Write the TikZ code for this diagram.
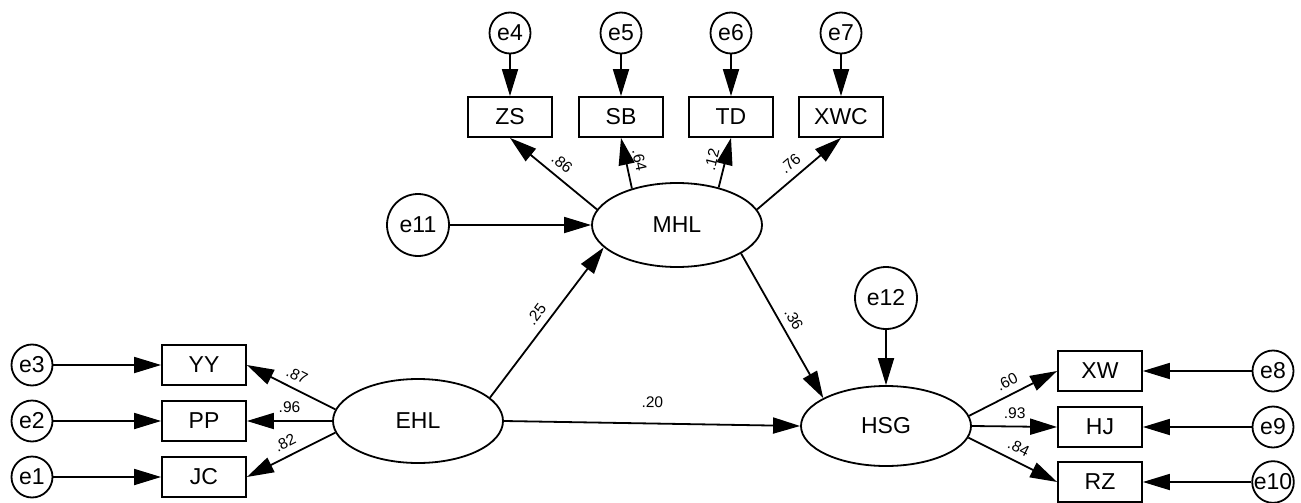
\documentclass[tikz,border=0pt]{standalone}
\usepackage{fontspec}
\setmainfont{Liberation Sans}
\usetikzlibrary{arrows.meta,shapes.geometric}
\begin{document}
\begin{tikzpicture}[x=1pt,y=-1pt,
  every node/.style={font=\fontsize{23}{27}\selectfont},
  obs/.style={draw, line width=1.8pt, rectangle, minimum width=84pt, minimum height=40pt, inner sep=0pt},
  lat/.style={draw, line width=1.8pt, ellipse, minimum width=170pt, minimum height=84pt, inner sep=0pt},
  err/.style={draw, line width=1.8pt, circle, minimum size=41pt, inner sep=0pt},
  bigerr/.style={err, minimum size=62pt},
  arr/.style={line width=1.8pt, -{Triangle[length=27pt,width=16pt]}},
  coef/.style={font=\fontsize{15.5}{18}\selectfont, sloped, above=6pt, inner sep=1pt, pos=0.5}
]
\fill[white] (0,0) rectangle (1301,503);
\useasboundingbox (0,0) rectangle (1301,503);

% indicators of MHL and their errors
\foreach \n/\e/\x in {ZS/e4/510, SB/e5/621, TD/e6/731, XWC/e7/841}{
  \node[err] (\e) at (\x,33) {\e};
  \node[obs] (\n) at (\x,117) {\n};
  \draw[arr] (\e) -- (\n);
}

% latent variables
\node[lat] (MHL) at (677,225) {MHL};
\node[lat] (EHL) at (418,421) {EHL};
\node[lat, minimum height=80pt] (HSG) at (886,426) {HSG};
\node[bigerr] (e11) at (418,225) {e11};
\node[bigerr] (e12) at (886,298) {e12};

% indicators of EHL
\foreach \n/\e/\y in {YY/e3/365, PP/e2/421, JC/e1/477}{
  \node[obs] (\n) at (204,\y) {\n};
  \node[err] (\e) at (32,\y) {\e};
  \draw[arr] (\e) -- (\n);
}

% indicators of HSG
\foreach \n/\e/\y in {XW/e8/371, HJ/e9/427, RZ/e10/482}{
  \node[obs] (\n) at (1100,\y) {\n};
  \node[err] (\e) at (1273,\y) {\e};
  \draw[arr] (\e) -- (\n);
}

% disturbances
\draw[arr] (e11) -- (MHL);
\draw[arr] (e12) -- (HSG);

% loadings
\draw[arr] (MHL.169) -- (ZS.south) node[coef]{.86};
\draw[arr] (MHL.141) -- (SB.south) node[coef]{.64};
\draw[arr] (MHL.42) -- (TD.south) node[coef]{.12};
\draw[arr] (MHL.11) -- (XWC.south) node[coef]{.76};

\draw[arr] (EHL.172) -- (YY.east) node[coef]{.87};
\draw[arr] (EHL.west) -- (PP.east) node[coef]{.96};
\draw[arr] (EHL.188) -- (JC.east) node[coef]{.82};

\draw[arr] (HSG.7) -- (XW.west) node[coef]{.60};
\draw[arr] (HSG.east) -- (HJ.west) node[coef]{.93};
\draw[arr] (HSG.-8) -- (RZ.west) node[coef]{.84};

% structural paths
\draw[arr] (EHL.18) -- (MHL.197) node[coef]{.25};
\draw[arr] (EHL.east) -- (HSG.west) node[coef, above=8pt]{.20};
\draw[arr] (MHL.-24) -- (HSG.156) node[coef]{.36};
\end{tikzpicture}
\end{document}
